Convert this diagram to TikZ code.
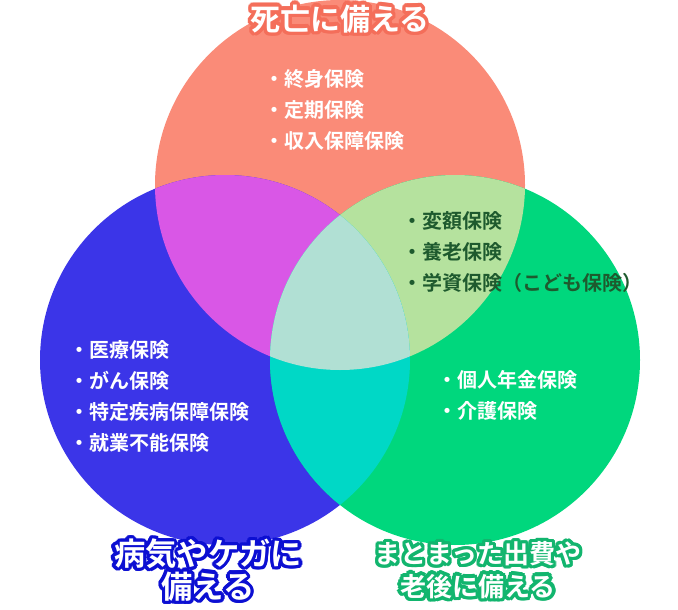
\documentclass[tikz,border=0pt]{standalone}
\usepackage{fontspec}
\setmainfont{Noto Sans CJK JP}[BoldFont={* Bold}]
\usetikzlibrary{calc}
\definecolor{cTop}{HTML}{FA8B78}
\definecolor{cLeft}{HTML}{3B35E8}
\definecolor{cRight}{HTML}{00D77D}
\definecolor{cTL}{HTML}{D957E6}
\definecolor{cTR}{HTML}{B5E29E}
\definecolor{cLR}{HTML}{00D8C6}
\definecolor{cAll}{HTML}{B1E0D4}
\definecolor{tDark}{HTML}{1E5A2E}
\definecolor{oTop}{HTML}{F46E5A}
\definecolor{oLeft}{HTML}{0C0FD2}
\definecolor{oRight}{HTML}{12B56E}
\tikzset{
  list/.style={anchor=north west,align=left,font=\fontsize{15}{23.3}\selectfont\bfseries,inner sep=0pt},
  ttl/.style={align=center,inner sep=0pt,text=white},
}
\newcommand\outlined[5]{% name, color, position, fontsize, text
  \foreach \a in {0,20,...,340}{\node[ttl,text=#2,font=\fontsize{#4}{#4}\selectfont\bfseries] at ($(#3)+(\a:3.4)$) {#5};}
  \node[ttl,font=\fontsize{#4}{#4}\selectfont\bfseries] (#1) at (#3) {#5};}
\begin{document}
\begin{tikzpicture}[x=0.75pt,y=-0.75pt]
\useasboundingbox (0,0) rectangle (678,610);
\coordinate (T) at (340,185);
\coordinate (L) at (225,360);
\coordinate (R) at (455,360);
\def\r{185}
\fill[cTop] (T) circle (\r);
\fill[cLeft] (L) circle (\r);
\fill[cRight] (R) circle (\r);
\begin{scope}\clip (T) circle (\r); \fill[cTL] (L) circle (\r);\end{scope}
\begin{scope}\clip (T) circle (\r); \fill[cTR] (R) circle (\r);\end{scope}
\begin{scope}\clip (L) circle (\r); \fill[cLR] (R) circle (\r);\end{scope}
\begin{scope}\clip (L) circle (\r); \clip (R) circle (\r); \fill[cAll] (T) circle (\r);\end{scope}
\node[list,text=white] (lt) at (264,69) {・終身保険\\・定期保険\\・収入保障保険};
\node[list,text=tDark] (ltr) at (402,211) {・変額保険\\・養老保険\\・学資保険（こども保険）};
\node[list,text=white] (ll) at (69,340) {・医療保険\\・がん保険\\・特定疾病保障保険\\・就業不能保険};
\node[list,text=white] (lr) at (437,370) {・個人年金保険\\・介護保険};
\outlined{tt}{oTop}{340,19}{22.5}{死亡に備える}
\outlined{tl}{oLeft}{208,570}{23.5}{病気やケガに\\[1pt]備える}
\outlined{tr}{oRight}{478,570}{19.5}{まとまった出費や\\[5pt]老後に備える}
\end{tikzpicture}
\end{document}
